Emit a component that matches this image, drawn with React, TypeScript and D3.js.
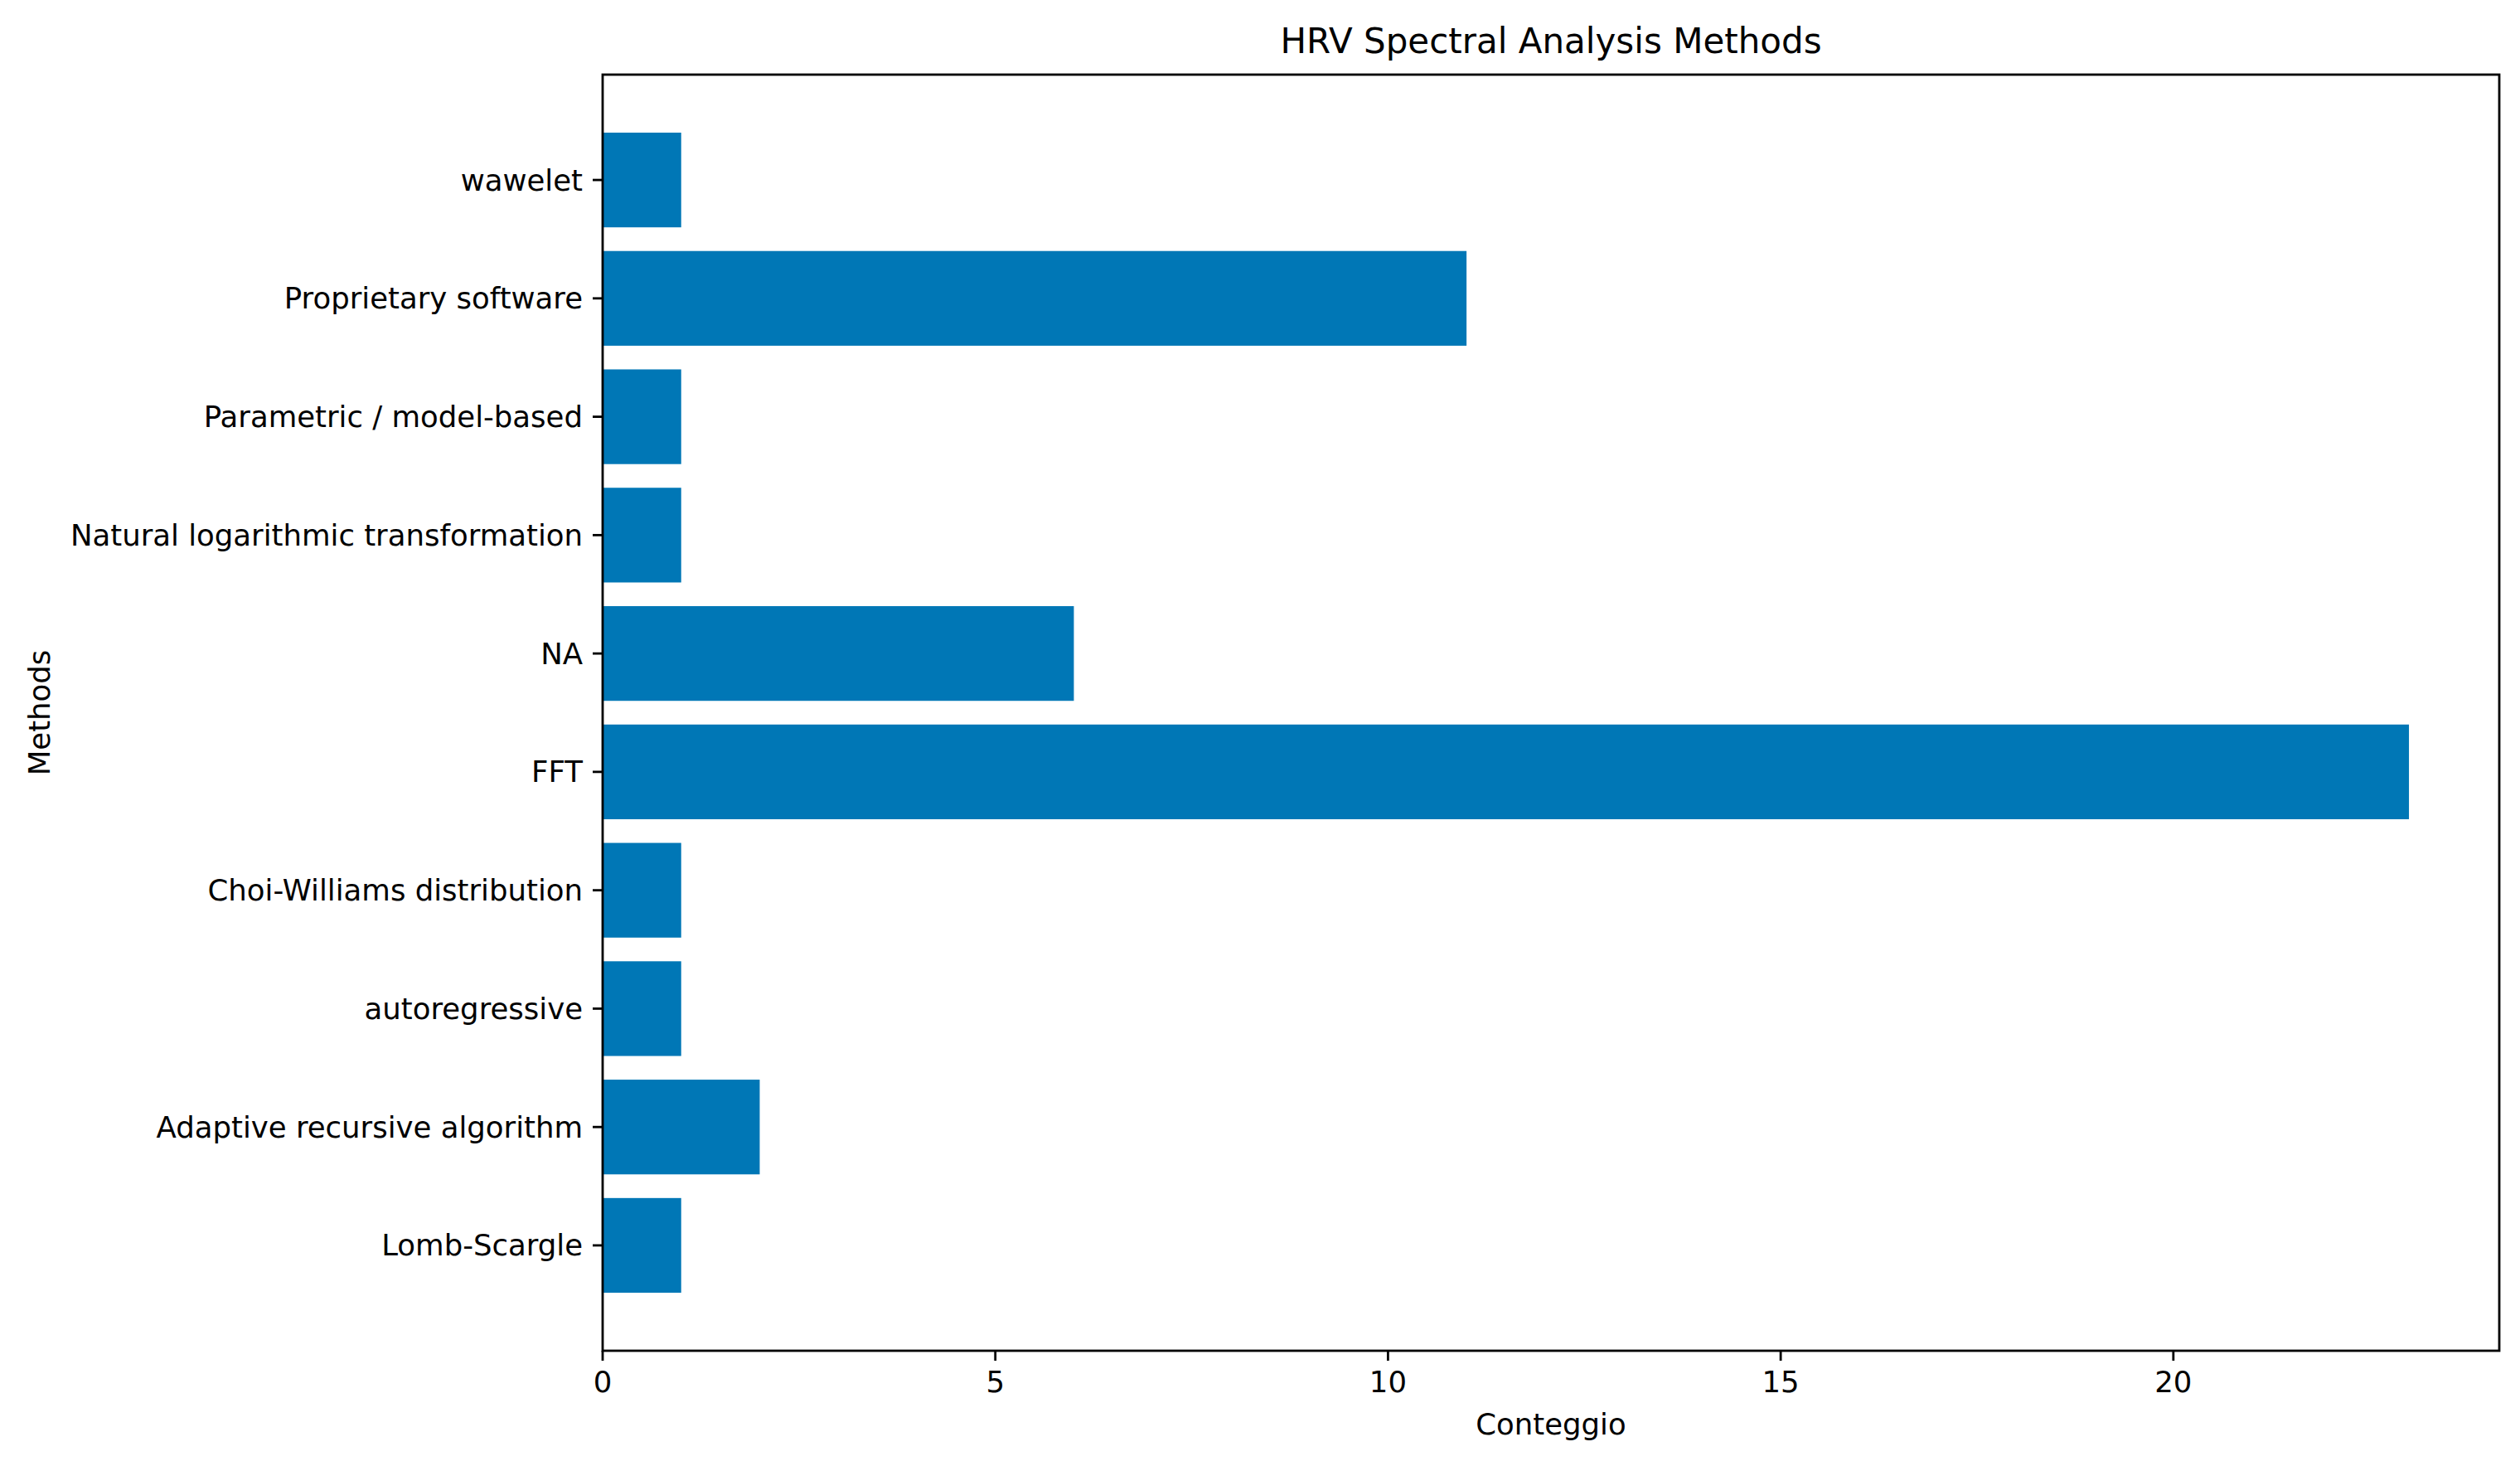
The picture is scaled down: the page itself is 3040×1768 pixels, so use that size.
import React, { FC, useEffect } from 'react'
import * as d3 from 'd3'

// categories bottom -> top, as matplotlib barh draws them
const methods = [
	'Lomb-Scargle',
	'Adaptive recursive algorithm',
	'autoregressive',
	'Choi-Williams distribution',
	'FFT',
	'NA',
	'Natural logarithmic transformation',
	'Parametric / model-based',
	'Proprietary software',
	'wawelet'
]
const counts = [1, 2, 1, 1, 23, 6, 1, 1, 11, 1]
const xTicks = [0, 5, 10, 15, 20]

const W = 3040
const H = 1768
const margin = { left: 727, right: 25, top: 90, bottom: 139 }
const barColor = '#0077b6'
const font = '"DejaVu Sans", sans-serif'

const App: FC = () => {
	useEffect(() => {
		document.body.style.margin = '0'
	}, [])

	const innerW = W - margin.left - margin.right
	const innerH = H - margin.top - margin.bottom
	const maxV = d3.max(counts) || 0
	const x = d3
		.scaleLinear()
		.domain([0, maxV * 1.05])
		.range([0, innerW])
	// bar height 0.8, 5% margins like matplotlib
	const lo = -0.4
	const hi = methods.length - 1 + 0.4
	const pad = (hi - lo) * 0.05
	const y = d3
		.scaleLinear()
		.domain([lo - pad, hi + pad])
		.range([innerH, 0])
	const barH = y(0) - y(0.8)
	const tickLen = 12
	const lw = 2.8
	const fs = 35.5

	return (
		<svg width={W} height={H} style={{ display: 'block', background: '#fff' }} fontFamily={font}>
			<text x={margin.left + innerW / 2} y={52} textAnchor="middle" dominantBaseline="middle" fontSize={42} fill="#000">
				HRV Spectral Analysis Methods
			</text>
			<g transform={`translate(${margin.left},${margin.top})`}>
				{/* bars */}
				{counts.map((v, i) => (
					<rect key={methods[i]} x={x(0)} y={y(i) - barH / 2} width={x(v) - x(0)} height={barH} fill={barColor} />
				))}
				{/* frame */}
				<rect x={0} y={0} width={innerW} height={innerH} fill="none" stroke="#000" strokeWidth={lw} />
				{/* x ticks */}
				{xTicks.map((t) => (
					<g key={t} transform={`translate(${x(t)},${innerH})`}>
						<line y1={0} y2={tickLen} stroke="#000" strokeWidth={lw} />
						<text y={tickLen + 12} dominantBaseline="hanging" textAnchor="middle" fontSize={fs} fill="#000">
							{t}
						</text>
					</g>
				))}
				{/* y ticks */}
				{methods.map((m, i) => (
					<g key={m} transform={`translate(0,${y(i)})`}>
						<line x1={0} x2={-tickLen} stroke="#000" strokeWidth={lw} />
						<text x={-tickLen - 12} dominantBaseline="central" textAnchor="end" fontSize={fs} fill="#000">
							{m}
						</text>
					</g>
				))}
			</g>
			<text x={margin.left + innerW / 2} y={1720} textAnchor="middle" dominantBaseline="middle" fontSize={fs} fill="#000">
				Conteggio
			</text>
			<text
				transform={`translate(50,${margin.top + innerH / 2}) rotate(-90)`}
				textAnchor="middle"
				dominantBaseline="middle"
				fontSize={fs}
				fill="#000"
			>
				Methods
			</text>
		</svg>
	)
}

export default App
